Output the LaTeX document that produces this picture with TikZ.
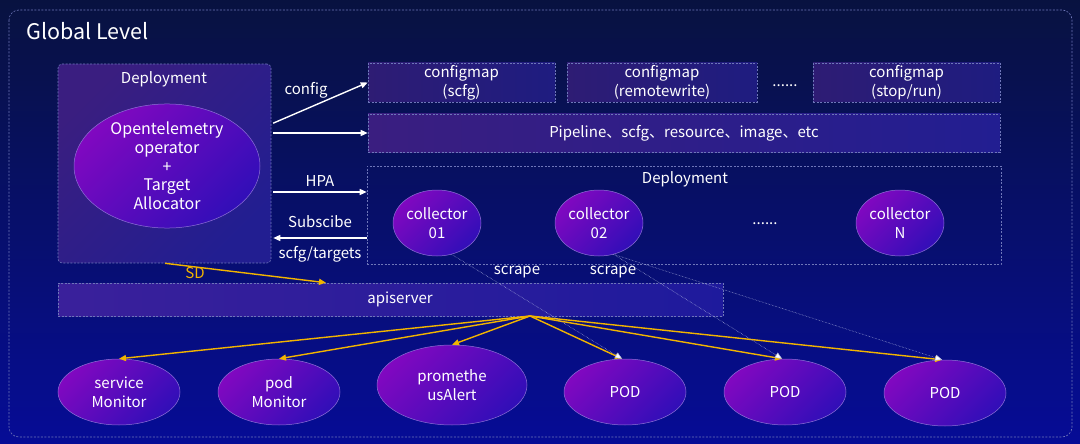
\documentclass[tikz,border=0pt]{standalone}
\usepackage{fontspec}
\setmainfont{Noto Sans CJK SC}
\usetikzlibrary{arrows.meta,fit,shapes.geometric}
\definecolor{bgtop}{RGB}{8,18,64}
\definecolor{bgbot}{RGB}{6,12,150}
\definecolor{dashc}{RGB}{110,118,185}
\definecolor{ellA}{RGB}{128,8,192}
\definecolor{ellB}{RGB}{50,14,184}
\definecolor{ellBorder}{RGB}{142,112,214}
\definecolor{boxA}{RGB}{58,30,128}
\definecolor{boxB}{RGB}{34,30,145}
\definecolor{cmA}{RGB}{46,28,116}
\definecolor{cmB}{RGB}{30,28,128}
\definecolor{apiA}{RGB}{58,32,155}
\definecolor{apiB}{RGB}{30,26,156}
\definecolor{gold}{RGB}{242,180,0}
\definecolor{scrapec}{RGB}{175,182,225}
\begin{document}
\begin{tikzpicture}[x=1pt,y=-1pt,
  every node/.style={text=white, inner sep=0pt},
  dbox/.style={draw=dashc, line width=0.6pt, dash pattern=on 2pt off 1.5pt},
  purplebox/.style={dbox, rounded corners=4pt, top color=boxA, bottom color=boxB, shading angle=45},
  cmbox/.style={dbox, left color=cmA, right color=cmB},
  pipebox/.style={dbox, left color=boxA, right color=boxB},
  apibox/.style={dbox, left color=apiA, right color=apiB},
  ell/.style={ellipse, draw=ellBorder, line width=0.5pt, top color=ellA, bottom color=ellB, shading angle=45, align=center},
  txt/.style={font=\fontsize{15}{19}\selectfont, align=center},
  big/.style={font=\fontsize{16}{18.7}\selectfont, align=center},
  warrow/.style={draw=white, line width=1.4pt, -{Triangle[length=7pt,width=6pt]}},
  garrow/.style={draw=gold, line width=1.4pt, -{Triangle[length=7pt,width=6pt]}},
  sarrow/.style={draw=scrapec, line width=0.5pt, densely dotted, -{Triangle[length=7pt,width=6pt,fill=white]}},
]
\useasboundingbox (0,0) rectangle (1080,444);
\fill[top color=bgtop, bottom color=bgbot] (0,0) rectangle (1080,444);
\draw[dbox, rounded corners=10pt] (9,10) rectangle (1072,437);
\node[anchor=west, font=\fontsize{21.5}{25}\selectfont] (gl) at (26,31) {Global Level};

% left deployment
\node[purplebox, fit={(58,64) (271,263)}] (dep1) {};
\node[txt] (dep1t) at (164,79) {Deployment};
\node[ell, big, minimum width=186pt, minimum height=118pt] (ota) at (167,166) {Opentelemetry\\operator\\+\\Target\\Allocator};

% configmaps
\node[cmbox, fit={(368,63) (555,102)}] (cm1) {};
\node[txt] (cm1t) at (cm1.center) {configmap\\(scfg)};
\node[cmbox, fit={(567,63) (757,102)}] (cm2) {};
\node[txt] (cm2t) at (cm2.center) {configmap\\(remotewrite)};
\node[txt] (dots1) at (785,86) {......};
\node[cmbox, fit={(813,63) (1000,102)}] (cm3) {};
\node[txt] (cm3t) at (cm3.center) {configmap\\(stop/run)};
\node[pipebox, fit={(368,114) (1000,152)}] (pipe) {};
\node[txt] (pipet) at (pipe.center) {Pipeline、scfg、resource、image、etc};

% right deployment
\node[dbox, fit={(367,166) (1001,264)}] (dep2) {};
\node[txt] (dep2t) at (685,179) {Deployment};
\node[ell, txt, minimum width=88pt, minimum height=66pt] (col1) at (437,223) {collector\\01};
\node[ell, txt, minimum width=88pt, minimum height=66pt] (col2) at (599,223) {collector\\02};
\node[txt] (dots2) at (765,224) {......};
\node[ell, txt, minimum width=88pt, minimum height=66pt] (colN) at (900,223) {collector\\N};

% apiserver
\node[apibox, fit={(58,283) (723,316)}] (api) {};
\node[txt] (apit) at (400,299) {apiserver};
\coordinate (fan) at (530,316);

% bottom ellipses
\node[ell, txt, minimum width=122pt, minimum height=66pt] (sm) at (119,392) {service\\Monitor};
\node[ell, txt, minimum width=122pt, minimum height=66pt] (pm) at (279,392) {pod\\Monitor};
\node[ell, txt, minimum width=150pt, minimum height=80pt] (pa) at (452,385) {promethe\\usAlert};
\node[ell, txt, minimum width=122pt, minimum height=66pt] (pod1) at (625,392) {POD};
\node[ell, txt, minimum width=122pt, minimum height=66pt] (pod2) at (785,392) {POD};
\node[ell, txt, minimum width=122pt, minimum height=66pt] (pod3) at (945,393) {POD};

% white arrows
\draw[warrow, shorten <=2pt] (dep1.east |- 0,124) -- (cm1.west);
\node[txt] (lconfig) at (306,90) {config};
\draw[warrow, shorten <=2pt] (dep1.east |- pipe.west) -- (pipe.west);
\draw[warrow, shorten <=2pt] (dep1.east |- 0,192) -- (dep2.west |- 0,192);
\node[txt] (lhpa) at (320,181) {HPA};
\draw[warrow, shorten >=2pt] (dep2.west |- 0,238) -- (dep1.east |- 0,238);
\node[txt] (lsub) at (320,222) {Subscibe};
\node[txt] (ltarg) at (320,254) {scfg/targets};

% SD
\draw[garrow] (dep1.south -| 165,0) -- (api.north -| 326,0);
\node[txt, text=gold] (lsd) at (195,273) {SD};

% fan arrows
\draw[garrow] (fan) -- (sm.north);
\draw[garrow] (fan) -- (pm.north);
\draw[garrow] (fan) -- (pa.north);
\draw[garrow] (fan) -- (pod1.95);
\draw[garrow] (fan) -- (pod2.95);
\draw[garrow] (fan) -- (pod3.95);

% scrape
\draw[sarrow] (col1.-65) -- (pod1.95);
\draw[sarrow] (col2.-65) -- (pod2.95);
\draw[sarrow] (col2.-65) -- (pod3.95);
\node[txt] (ls1) at (517,272) {scrape};
\node[txt] (ls2) at (613,272) {scrape};
\end{tikzpicture}
\end{document}
